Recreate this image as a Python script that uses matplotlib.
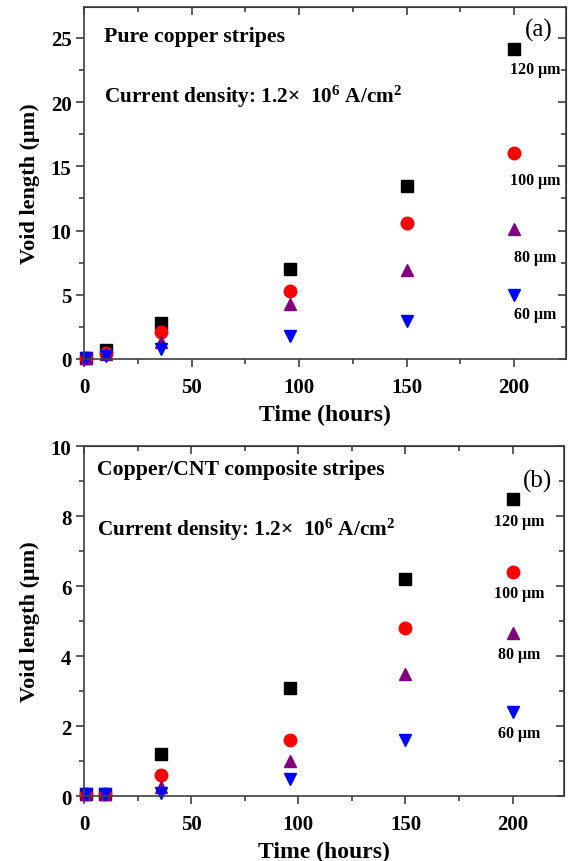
import matplotlib
matplotlib.use('Agg')
import matplotlib.pyplot as plt
from matplotlib.ticker import MultipleLocator

plt.rcParams['font.family'] = ['Liberation Serif', 'DejaVu Serif']
plt.rcParams['font.weight'] = 'bold'
plt.rcParams['axes.labelweight'] = 'bold'
plt.rcParams['mathtext.fontset'] = 'custom'
plt.rcParams['mathtext.rm'] = 'Liberation Serif:bold'
plt.rcParams['mathtext.bf'] = 'Liberation Serif:bold'
plt.rcParams['mathtext.default'] = 'bf'

# Data (time in hours, void length in um)
time_h = [1, 10, 36, 96, 150, 200]
widths = ['120 μm', '100 μm', '80 μm', '60 μm']

pure_120 = [0.05, 0.7, 2.8, 7.0, 13.5, 24.1]
pure_100 = [0.05, 0.45, 2.1, 5.3, 10.6, 16.0]
pure_80 = [0.05, 0.35, 1.35, 4.3, 6.9, 10.1]
pure_60 = [0.1, 0.25, 0.75, 1.75, 2.95, 4.95]

cnt_120 = [0.05, 0.05, 1.2, 3.1, 6.2, 8.5]
cnt_100 = [0.05, 0.05, 0.6, 1.6, 4.8, 6.4]
cnt_80 = [0.05, 0.05, 0.25, 1.0, 3.5, 4.65]
cnt_60 = [0.05, 0.05, 0.1, 0.5, 1.6, 2.4]

markers = ['s', 'o', '^', 'v']
colors = ['black', '#ff0000', '#800080', '#0000ff']
msizes = [8, 9, 9, 9]

fig = plt.figure(figsize=(5.68, 8.62), dpi=100)
ax1 = fig.add_axes([0.148, 0.5824, 0.848, 0.4083])
ax2 = fig.add_axes([0.148, 0.0754, 0.845, 0.406])


def style_axes(ax, ymax, ymajor):
    ax.set_xlim(0, 224)
    ax.set_ylim(0, ymax)
    ax.xaxis.set_major_locator(MultipleLocator(50))
    ax.xaxis.set_minor_locator(MultipleLocator(25))
    ax.yaxis.set_major_locator(MultipleLocator(ymajor))
    ax.yaxis.set_minor_locator(MultipleLocator(ymajor / 2))
    for s in ax.spines.values():
        s.set_color('#404040')
        s.set_linewidth(1.2)
    ax.tick_params(which='both', direction='out', color='#404040', width=1.2, labelsize=15)
    ax.tick_params(axis='x', pad=7)
    ax.tick_params(axis='y', pad=3)
    ax.tick_params(which='major', length=6)
    ax.tick_params(which='minor', length=3.5)
    top = ax.secondary_xaxis('top')
    top.xaxis.set_major_locator(MultipleLocator(50))
    top.xaxis.set_minor_locator(MultipleLocator(25))
    top.tick_params(which='both', direction='in', labeltop=False, color='#404040', width=1.2)
    top.tick_params(which='major', length=6)
    top.tick_params(which='minor', length=3.5)
    right = ax.secondary_yaxis('right')
    right.yaxis.set_major_locator(MultipleLocator(ymajor))
    right.yaxis.set_minor_locator(MultipleLocator(ymajor / 2))
    right.tick_params(which='both', direction='in', labelright=False, color='#404040', width=1.2)
    right.tick_params(which='major', length=6)
    right.tick_params(which='minor', length=3.5)
    ax.set_xlabel('Time (hours)', fontsize=17, labelpad=5)
    ax.set_ylabel('Void length (μm)', fontsize=16, labelpad=8)


# (a) pure copper
series_a = [pure_120, pure_100, pure_80, pure_60]
for ys, m, c, ms in zip(series_a, markers, colors, msizes):
    ax1.plot(time_h, ys, linestyle='none', marker=m, color=c, markersize=ms, clip_on=False)
style_axes(ax1, 27.4, 5)
ax1.text(0.042, 0.918, 'Pure copper stripes', transform=ax1.transAxes,
         fontsize=15.7, ha='left', va='center')
ax1.text(0.042, 0.747, 'Current density: 1.2×  10$^{6}$ A/cm$^{2}$', transform=ax1.transAxes,
         fontsize=15.3, ha='left', va='center')
ax1.text(0.945, 0.935, '(a)', transform=ax1.transAxes, fontsize=18,
         fontweight='normal', ha='center', va='center')
label_y_a = [22.6, 13.9, 7.9, 3.5]
for lbl, ly in zip(widths, label_y_a):
    ax1.text(210, ly, lbl, fontsize=11.5, ha='center', va='center')

# (b) copper/CNT composite
series_b = [cnt_120, cnt_100, cnt_80, cnt_60]
for ys, m, c, ms in zip(series_b, markers, colors, msizes):
    ax2.plot(time_h, ys, linestyle='none', marker=m, color=c, markersize=ms, clip_on=False)
style_axes(ax2, 10, 2)
ax2.text(0.027, 0.934, 'Copper/CNT composite stripes', transform=ax2.transAxes,
         fontsize=15.7, ha='left', va='center')
ax2.text(0.027, 0.763, 'Current density: 1.2×  10$^{6}$ A/cm$^{2}$', transform=ax2.transAxes,
         fontsize=15.3, ha='left', va='center')
ax2.text(0.945, 0.903, '(b)', transform=ax2.transAxes, fontsize=18,
         fontweight='normal', ha='center', va='center')
label_y_b = [7.85, 5.8, 4.05, 1.8]
for lbl, ly in zip(widths, label_y_b):
    ax2.text(203, ly, lbl, fontsize=11.5, ha='center', va='center')

fig.savefig('out.png', dpi=100)
